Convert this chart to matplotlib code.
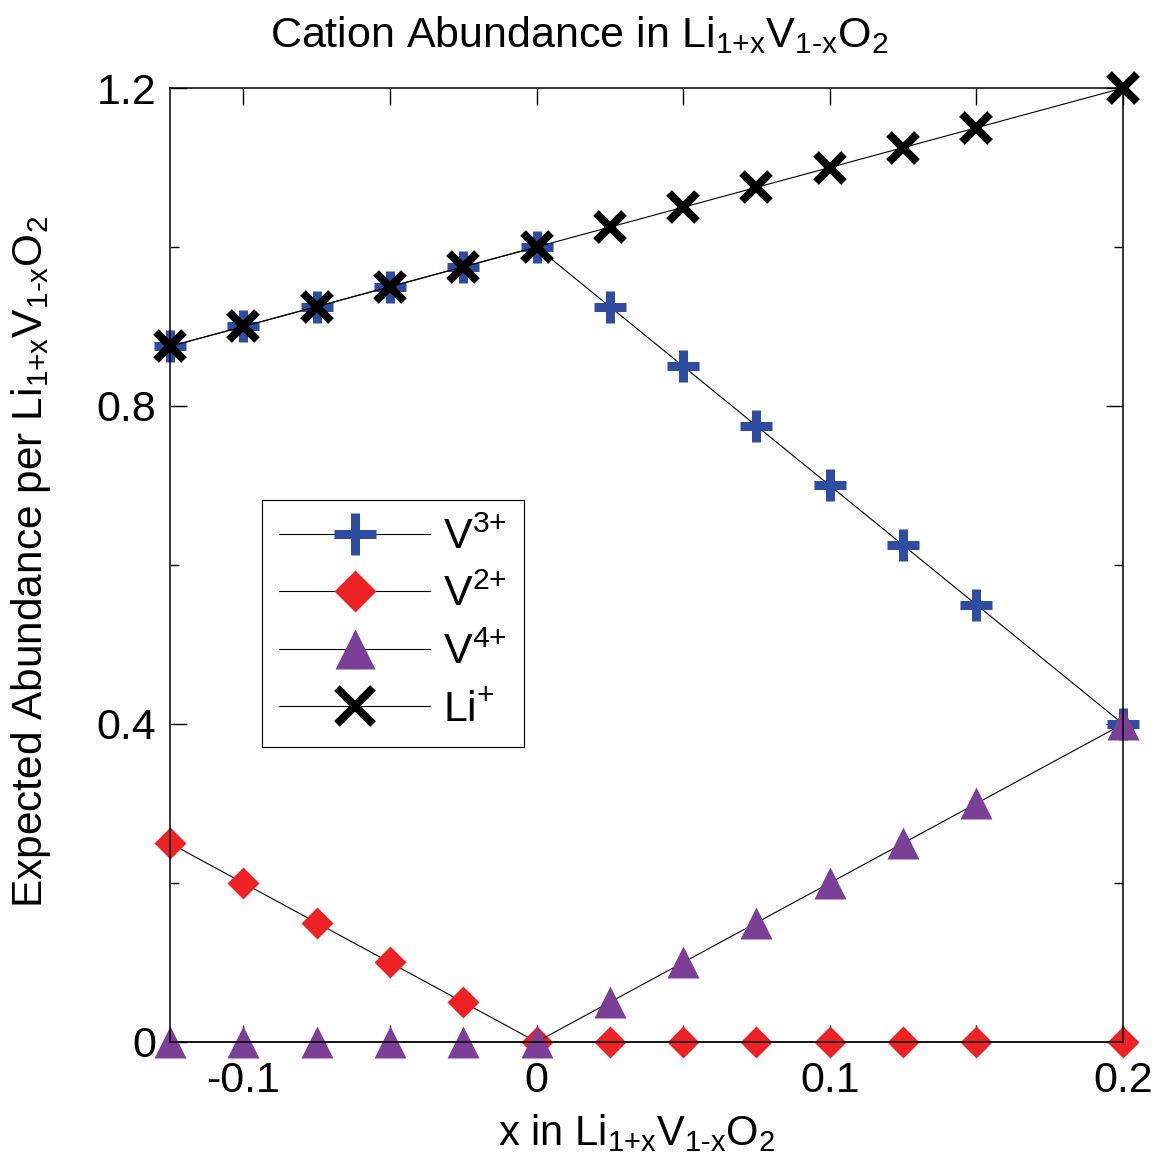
import matplotlib
matplotlib.use('Agg')
import matplotlib.pyplot as plt
from matplotlib.ticker import MultipleLocator

plt.rcParams['font.family'] = ['Liberation Sans', 'DejaVu Sans']
plt.rcParams['mathtext.fontset'] = 'custom'
plt.rcParams['mathtext.rm'] = 'Liberation Sans'
plt.rcParams['mathtext.it'] = 'Liberation Sans:italic'
plt.rcParams['axes.unicode_minus'] = False

# composition x in Li(1+x)V(1-x)O2 and the cation counts per formula unit
x = [-0.125, -0.1, -0.075, -0.05, -0.025, 0.0, 0.025, 0.05, 0.075, 0.1, 0.125, 0.15, 0.2]
v3 = [0.875, 0.9, 0.925, 0.95, 0.975, 1.0, 0.925, 0.85, 0.775, 0.7, 0.625, 0.55, 0.4]
v2 = [0.25, 0.2, 0.15, 0.1, 0.05, 0.0, 0.0, 0.0, 0.0, 0.0, 0.0, 0.0, 0.0]
v4 = [0.0, 0.0, 0.0, 0.0, 0.0, 0.0, 0.05, 0.1, 0.15, 0.2, 0.25, 0.3, 0.4]
li = [0.875, 0.9, 0.925, 0.95, 0.975, 1.0, 1.025, 1.05, 1.075, 1.1, 1.125, 1.15, 1.2]

formula = r'Li$_{\text{1+x}}$V$_{\text{1-x}}$O$_{\text{2}}$'

fig = plt.figure(figsize=(11.58, 11.58), dpi=100)
ax = fig.add_axes([0.1468, 0.1002, 0.8230, 0.8238])

line_kw = dict(color='black', lw=0.8, clip_on=False)
ax.plot(x, v3, marker='+', ms=23.5, mew=6.5, mec='#2e4da0', label=r'V$^{\text{3+}}$', **line_kw)
ax.plot(x, v2, marker='D', ms=16.3, mfc='#ee2224', mec='none', label=r'V$^{\text{2+}}$', **line_kw)
ax.plot(x, v4, marker='^', ms=22.5, mfc='#7b3f98', mec='none', label=r'V$^{\text{4+}}$', **line_kw)
ax.plot(x, li, marker='x', ms=19.5, mew=5.8, mec='black', label=r'Li$^{\text{+}}$', **line_kw)

ax.set_xlim(-0.125, 0.2)
ax.set_ylim(0, 1.2)
ax.xaxis.set_major_locator(MultipleLocator(0.1))
ax.xaxis.set_minor_locator(MultipleLocator(0.05))
ax.yaxis.set_major_locator(MultipleLocator(0.4))
ax.yaxis.set_minor_locator(MultipleLocator(0.2))
ax.xaxis.set_major_formatter(lambda v, p: f'{v:g}' if abs(v) > 1e-9 else '0')
ax.yaxis.set_major_formatter(lambda v, p: f'{v:g}' if abs(v) > 1e-9 else '0')

ax.tick_params(which='both', direction='in', top=True, right=True, width=1.0)
ax.tick_params(which='major', length=12, labelsize=31)
ax.tick_params(axis='x', which='major', pad=14)
ax.tick_params(axis='y', which='major', pad=10)
ax.tick_params(axis='x', which='minor', length=12)
ax.tick_params(axis='y', which='minor', length=6.5)
for s in ax.spines.values():
    s.set_linewidth(1.1)

fig.text(0.5, 1 - 47 / 1158, 'Cation Abundance in ' + formula,
         ha='center', va='baseline', fontsize=31)
fig.text(637 / 1158, 1 - 1145 / 1158, 'x in ' + formula,
         ha='center', va='baseline', fontsize=30)
fig.text(31 / 1158, 1 - 562 / 1158, 'Expected Abundance per ' + formula,
         ha='center', va='center', rotation=90, fontsize=30.5)

leg = ax.legend(loc='upper left', bbox_to_anchor=(0.0965, 0.568), borderaxespad=0,
                fontsize=31, handlelength=3.5, handletextpad=0.3, labelspacing=0.4,
                borderpad=0.4, markerscale=1.3, fancybox=False, framealpha=1,
                edgecolor='black')
leg.get_frame().set_linewidth(0.8)

fig.savefig('out.png', dpi=100)
